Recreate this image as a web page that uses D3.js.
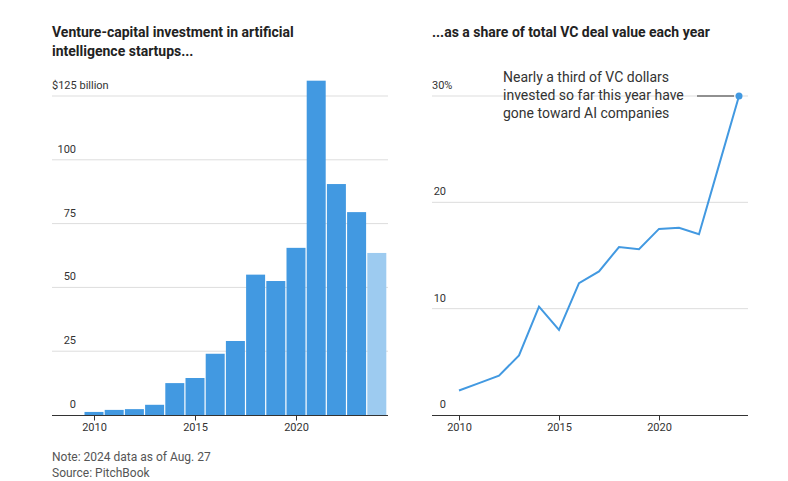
<!DOCTYPE html>
<html><head><meta charset="utf-8">
<script src="https://cdn.jsdelivr.net/npm/d3@7"></script>
<style>body{margin:0;background:#fff;font-family:"Roboto","Noto Sans",sans-serif;}</style>
</head><body><svg id="c" width="788" height="481"></svg>
<script>
const years=[2010,2011,2012,2013,2014,2015,2016,2017,2018,2019,2020,2021,2022,2023,2024];
const invest=[1.2,2,2.3,4,12.5,14.5,24,29,55,52.5,65.5,131,90.5,79.5,63.5];
const share=[2.3,3.0,3.7,5.6,10.2,8.0,12.4,13.5,15.8,15.6,17.5,17.6,17.0,23.5,30];
const leftTicks=[0,25,50,75,100,125];
const rightTicks=[0,10,20,30];
const xTicks=[2010,2015,2020];

const svg=d3.select("#c");
const tc="#333", gc="#ddd";
// Titles
svg.append("text").attr("x",52).attr("y",37).text("Venture-capital investment in artificial").attr("font-size",14).attr("font-weight",700).attr("fill","#222");
svg.append("text").attr("x",52).attr("y",56).text("intelligence startups...").attr("font-size",14).attr("font-weight",700).attr("fill","#222");
svg.append("text").attr("x",432).attr("y",37).text("...as a share of total VC deal value each year").attr("font-size",14).attr("font-weight",700).attr("fill","#222");

// Left chart
const xL=d3.scaleLinear().domain([2010,2020]).range([94,296]);
const yL=d3.scaleLinear().domain([0,125]).range([415,96]);
const gL=svg.append("g");
leftTicks.forEach(t=>{
  if(t>0) gL.append("line").attr("x1",52).attr("x2",388).attr("y1",yL(t)).attr("y2",yL(t)).attr("stroke",gc);
  gL.append("text").attr("x",t===125?52:76).attr("y",yL(t)-7).attr("text-anchor",t===125?"start":"end").attr("font-size",11).attr("fill",tc).text(t===125?"$125 billion":t);
});
gL.selectAll("rect").data(years).join("rect")
 .attr("x",d=>xL(d)-9.5).attr("width",19)
 .attr("y",(d,i)=>yL(invest[i])).attr("height",(d,i)=>yL(0)-yL(invest[i]))
 .attr("fill",d=>d===2024?"#9dcbf0":"#4299e1");
gL.append("line").attr("x1",52).attr("x2",388).attr("y1",415.5).attr("y2",415.5).attr("stroke","#333");
const axL=d3.axisBottom(xL).tickValues(xTicks).tickFormat(d3.format("d")).tickSize(5);
gL.append("g").attr("transform","translate(0,415.5)").call(axL).call(g=>{g.select(".domain").remove();g.selectAll("text").attr("font-size",11).attr("fill",tc).attr("font-family","Roboto");g.selectAll("line").attr("stroke","#333");});

// Right chart
const xR=d3.scaleLinear().domain([2010,2020]).range([459,659]);
const yR=d3.scaleLinear().domain([0,30]).range([415,96]);
const gR=svg.append("g");
rightTicks.forEach(t=>{
  if(t>0) gR.append("line").attr("x1",432).attr("x2",748).attr("y1",yR(t)).attr("y2",yR(t)).attr("stroke",gc);
  gR.append("text").attr("x",t===30?432:446).attr("y",yR(t)-7).attr("text-anchor",t===30?"start":"end").attr("font-size",11).attr("fill",tc).text(t===30?"30%":t);
});
gR.append("line").attr("x1",432).attr("x2",748).attr("y1",415.5).attr("y2",415.5).attr("stroke","#333");
const axR=d3.axisBottom(xR).tickValues(xTicks).tickFormat(d3.format("d")).tickSize(5);
gR.append("g").attr("transform","translate(0,415.5)").call(axR).call(g=>{g.select(".domain").remove();g.selectAll("text").attr("font-size",11).attr("fill",tc).attr("font-family","Roboto");g.selectAll("line").attr("stroke","#333");});
const line=d3.line().x((d,i)=>xR(years[i])).y(d=>yR(d));
gR.append("path").datum(share).attr("d",line).attr("fill","none").attr("stroke","#4299e1").attr("stroke-width",2);
gR.append("circle").attr("cx",xR(2024)).attr("cy",yR(30)).attr("r",3.5).attr("fill","#4299e1");
gR.append("line").attr("x1",697).attr("x2",xR(2024)-5).attr("y1",yR(30)).attr("y2",yR(30)).attr("stroke","#333");
["Nearly a third of VC dollars","invested so far this year have","gone toward AI companies"].forEach((s,i)=>
  gR.append("text").attr("x",503).attr("y",82+i*18).attr("font-size",14).attr("fill","#333").text(s));

// Notes
svg.append("text").attr("x",52).attr("y",461).attr("font-size",12).attr("fill","#555").text("Note: 2024 data as of Aug. 27");
svg.append("text").attr("x",52).attr("y",477).attr("font-size",12).attr("fill","#555").text("Source: PitchBook");
</script></body></html>
